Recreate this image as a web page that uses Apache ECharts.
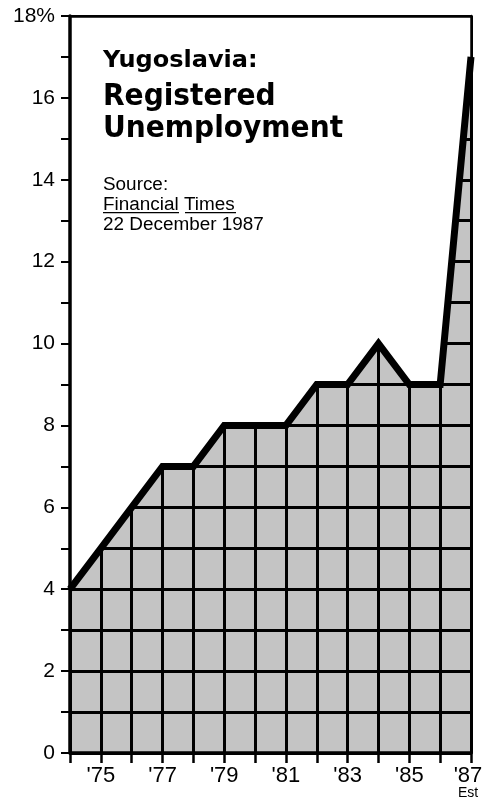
<!DOCTYPE html>
<html><head><meta charset="utf-8">
<script src="https://cdn.jsdelivr.net/npm/echarts@6/dist/echarts.min.js"></script>
<style>html,body{margin:0;padding:0;background:#fff}#c{width:482px;height:800px}</style>
</head><body><div id="c"></div>
<script>
const years = [1974,1975,1976,1977,1978,1979,1980,1981,1982,1983,1984,1985,1986,1987];
const rates = [4,5,6,7,7,8,8,8,9,9,10,9,9,17];
const yMax = 18;
const labeledYears = [1975,1977,1979,1981,1983,1985,1987];
const estYear = 1987;
const titleLines = ['Yugoslavia:', 'Registered', 'Unemployment'];
const sourceLines = ['Source:', 'Financial Times', '22 December 1987'];

const chart = echarts.init(document.getElementById('c'), null, {renderer:'canvas'});
const F = '"Liberation Sans", Arial, Helvetica, sans-serif';
const FC = '"DejaVu Sans Condensed", "Liberation Sans Narrow", sans-serif';

const frameAxis = (pos, w, mn, mx) => ({
  type:'value', min: mn, max: mx, position: pos, z: 10,
  axisLine:{show:true, onZero:false, lineStyle:{color:'#000', width:w}},
  axisTick:{show:false}, axisLabel:{show:false}, splitLine:{show:false}
});
const x0 = years[0], x1 = years[years.length-1];

chart.setOption({
  animation:false,
  grid:{left:70, right:11, top:16, bottom:47, show:true, backgroundColor:'#c4c4c4', borderWidth:0,
        containLabel:false, outerBoundsMode:'none'},
  xAxis:[{
    type:'value', min:x0, max:x1, interval:1, z:0,
    axisLine:{show:false},
    axisTick:{show:true, length:10, lineStyle:{color:'#000', width:2.5}},
    splitLine:{show:true, lineStyle:{color:'#000', width:3}},
    axisLabel:{show:true, margin:12, showMinLabel:true, showMaxLabel:true,
      formatter: v => {
        if (labeledYears.indexOf(v) < 0) return '';
        const s = "'" + String(v).slice(2);
        return v === estYear ? '{c|' + s + '}\n{b|Est}' : '{a|' + s + '}';
      },
      rich:{a:{fontFamily:F, fontSize:22, color:'#000', lineHeight:22},
            c:{fontFamily:F, fontSize:22, color:'#000', lineHeight:22, padding:[0,6,0,0]},
            b:{fontFamily:F, fontSize:14, color:'#000', lineHeight:13, padding:[0,6,0,0]}},
      verticalAlign:'top'}
  }, frameAxis('bottom', 3.5, x0, x1), frameAxis('top', 2.5, x0, x1)],
  yAxis:[{
    type:'value', min:0, max:yMax, interval:1, z:0,
    axisLine:{show:false},
    axisTick:{show:true, length:9, lineStyle:{color:'#000', width:2}},
    splitLine:{show:true, lineStyle:{color:'#000', width:3}},
    axisLabel:{show:true, margin:15, fontFamily:F, fontSize:21, color:'#000',
      showMinLabel:true, showMaxLabel:true,
      formatter: v => v === yMax ? v + '%' : (v % 2 === 0 ? String(v) : '')}
  }, frameAxis('left', 3.5, 0, yMax), frameAxis('right', 2.5, 0, yMax)],
  series:[{
    type:'line', xAxisIndex:0, yAxisIndex:0,
    data: years.map((y,i)=>[y, rates[i]]),
    symbol:'none', clip:false, z:5,
    lineStyle:{color:'#000', width:7, join:'miter'},
    areaStyle:{color:'#fff', opacity:1, origin:'end'}
  }],
  graphic:[
    {type:'text', left:103, top:50, scaleX:1.16, z:20, style:{text:titleLines[0], font:'bold 23px ' + FC, fill:'#000'}},
    {type:'text', left:103, top:82, scaleX:1.04, z:20, style:{text:titleLines[1], font:'bold 30px ' + FC, fill:'#000'}},
    {type:'text', left:103, top:114, scaleX:1.04, z:20, style:{text:titleLines[2], font:'bold 30px ' + FC, fill:'#000'}},
    {type:'text', left:103, top:176, scaleX:1.05, z:20, style:{text:sourceLines[0], font:'18px ' + F, fill:'#000'}},
    {type:'text', left:103, top:196, scaleX:1.05, z:20, style:{text:sourceLines[1], font:'18px ' + F, fill:'#000'}},
    {type:'text', left:103, top:216, scaleX:1.05, z:20, style:{text:sourceLines[2], font:'18px ' + F, fill:'#000'}},
    {type:'rect', left:103, top:212, z:20, shape:{width:76, height:1.2}, style:{fill:'#000'}},
    {type:'rect', left:185, top:212, z:20, shape:{width:51, height:1.2}, style:{fill:'#000'}}
  ]
});
</script></body></html>
